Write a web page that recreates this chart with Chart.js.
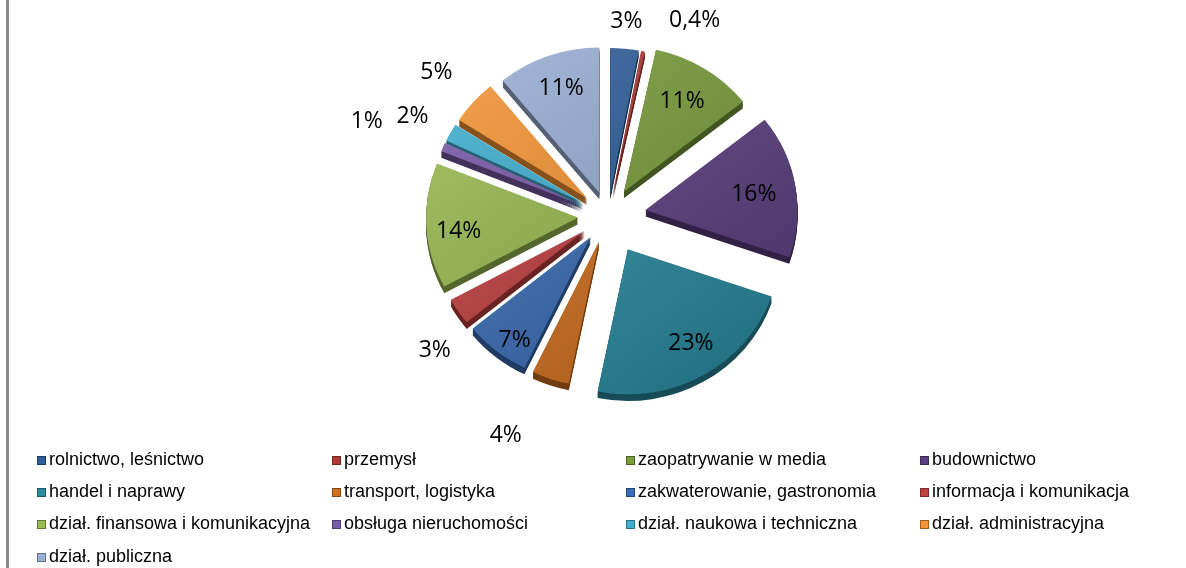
<!DOCTYPE html>
<html>
<head>
<meta charset="utf-8">
<script src="https://cdn.jsdelivr.net/npm/chart.js@4.4.0/dist/chart.umd.min.js"></script>
<style>
  html, body { margin: 0; padding: 0; background: #fff; }
  #wrap { position: relative; width: 1186px; height: 568px; overflow: hidden; }
  #frame { position: absolute; left: 6px; top: 0; width: 3px; height: 568px; background: #8c8c8c; }
  #chart { position: absolute; left: 0; top: 0; }
  .item { position: absolute; height: 20px; line-height: 20px; white-space: nowrap;
          font: 18px "Liberation Sans", Arial, sans-serif; color: #000; }
  .sw { display: inline-block; width: 9px; height: 9px; margin-right: 3px; vertical-align: 0px;
        box-sizing: border-box; border: 1px solid rgba(0,0,0,0.35); }
</style>
</head>
<body>
<div id="wrap">
  <div id="frame"></div>
  <canvas id="chart" width="1186" height="568"></canvas>
  <div id="legend"></div>
</div>
<script>
// ------------------- DATA -------------------
const categories = [
  "rolnictwo, leśnictwo", "przemysł", "zaopatrywanie w media", "budownictwo",
  "handel i naprawy", "transport, logistyka", "zakwaterowanie, gastronomia", "informacja i komunikacja",
  "dział. finansowa i komunikacyjna", "obsługa nieruchomości", "dział. naukowa i techniczna", "dział. administracyjna",
  "dział. publiczna"
];
const shares = [3, 0.4, 11, 16, 23, 4, 7, 3, 14, 1, 2, 5, 11];   // %
const colors = [
  "#2f5f9a", "#b03a36", "#7a9c3c", "#5a4080",
  "#2a8aa0", "#d07020", "#3a6db5", "#c04040",
  "#9abb52", "#7a5aa8", "#40b0d0", "#f59535",
  "#9aaed4"
];

// ------------------- LAYOUT -------------------
const R = 152;          // pie radius
const DEPTH = 7;        // 3d thickness
const TILT = 0.955;     // vertical squash of the pie
const explode = [24, 24, 30, 38, 40, 28, 28, 28, 30, 28, 28, 28, 26];
// label distance (x radius) and angular nudge (deg), per slice
const labelR = [1.13, 1.25, 0.70, 0.72, 0.74, 1.41, 0.84, 1.26, 0.79, 1.52, 1.26, 1.29, 0.72];
const labelTurn = [0, 12.4, 1, 1.3, -3.2, 6.3, -1.5, -4.2, -2.5, -2.3, -2, -1.6, -0.5];

function shade(hex, f) {
  const n = parseInt(hex.slice(1), 16);
  const c = [(n >> 16) & 255, (n >> 8) & 255, n & 255].map(v => {
    const o = f >= 1 ? v + (255 - v) * (f - 1) : v * f;
    return Math.max(0, Math.min(255, Math.round(o)));
  });
  return `rgb(${c[0]},${c[1]},${c[2]})`;
}

const midAngle = a => (a.startAngle + a.endAngle) / 2;

// exploded 3d slices
const pie3d = {
  id: "pie3d",
  beforeDatasetsDraw(chart) {
    const ctx = chart.ctx;
    const arcs = chart.getDatasetMeta(0).data;
    const order = arcs.map((a, i) => i).sort((a, b) => Math.sin(midAngle(arcs[a])) - Math.sin(midAngle(arcs[b])));
    order.forEach(i => {
      const arc = arcs[i];
      const m = midAngle(arc);
      const base = arc.options;
      ctx.save();
      ctx.translate(arc.x, arc.y);
      ctx.scale(1, TILT);
      ctx.translate(-arc.x, -arc.y);
      ctx.translate(Math.cos(m) * explode[i], Math.sin(m) * explode[i]);
      // side
      arc.options = Object.assign({}, base, { backgroundColor: shade(colors[i], 0.55) });
      for (let d = DEPTH; d >= 1; d--) {
        ctx.save();
        ctx.translate(0, d);
        arc.draw(ctx);
        ctx.restore();
      }
      // top face
      const g = ctx.createLinearGradient(arc.x - R, arc.y - R, arc.x + R * 0.6, arc.y + R);
      g.addColorStop(0, shade(colors[i], 1.12));
      g.addColorStop(1, shade(colors[i], 0.82));
      arc.options = Object.assign({}, base, { backgroundColor: g });
      arc.draw(ctx);
      arc.options = base;
      ctx.restore();
    });
    return false;
  },
  afterDraw(chart) {
    const ctx = chart.ctx;
    const arcs = chart.getDatasetMeta(0).data;
    ctx.save();
    ctx.font = '23px "Open Sans", sans-serif';
    ctx.fillStyle = "#000";
    ctx.textAlign = "center";
    ctx.textBaseline = "middle";
    arcs.forEach((arc, i) => {
      const m = midAngle(arc) + labelTurn[i] * Math.PI / 180;
      const d = R * labelR[i] + explode[i];
      const txt = String(shares[i]).replace(".", ",") + "%";
      ctx.fillText(txt, arc.x + Math.cos(m) * d, arc.y + Math.sin(m) * d);
    });
    ctx.restore();
  }
};

new Chart(document.getElementById("chart"), {
  type: "pie",
  data: {
    labels: categories,
    datasets: [{
      data: shares,
      backgroundColor: colors,
      borderWidth: 0
    }]
  },
  options: {
    responsive: false,
    animation: false,
    events: [],
    radius: R,
    layout: { padding: { left: 30, top: 0, right: 0, bottom: 136 } },
    plugins: { legend: { display: false }, tooltip: { enabled: false } }
  },
  plugins: [pie3d]
});

// ------------------- LEGEND -------------------
const colX = [37, 332, 626, 920];
const rowY = [459, 491, 523, 556];
const legend = document.getElementById("legend");
categories.forEach((name, i) => {
  const el = document.createElement("div");
  el.className = "item";
  el.style.left = colX[i % 4] + "px";
  el.style.top = (rowY[Math.floor(i / 4)] - 10) + "px";
  el.innerHTML = `<span class="sw" style="background:${colors[i]}"></span>${name}`;
  legend.appendChild(el);
});
</script>
</body>
</html>
